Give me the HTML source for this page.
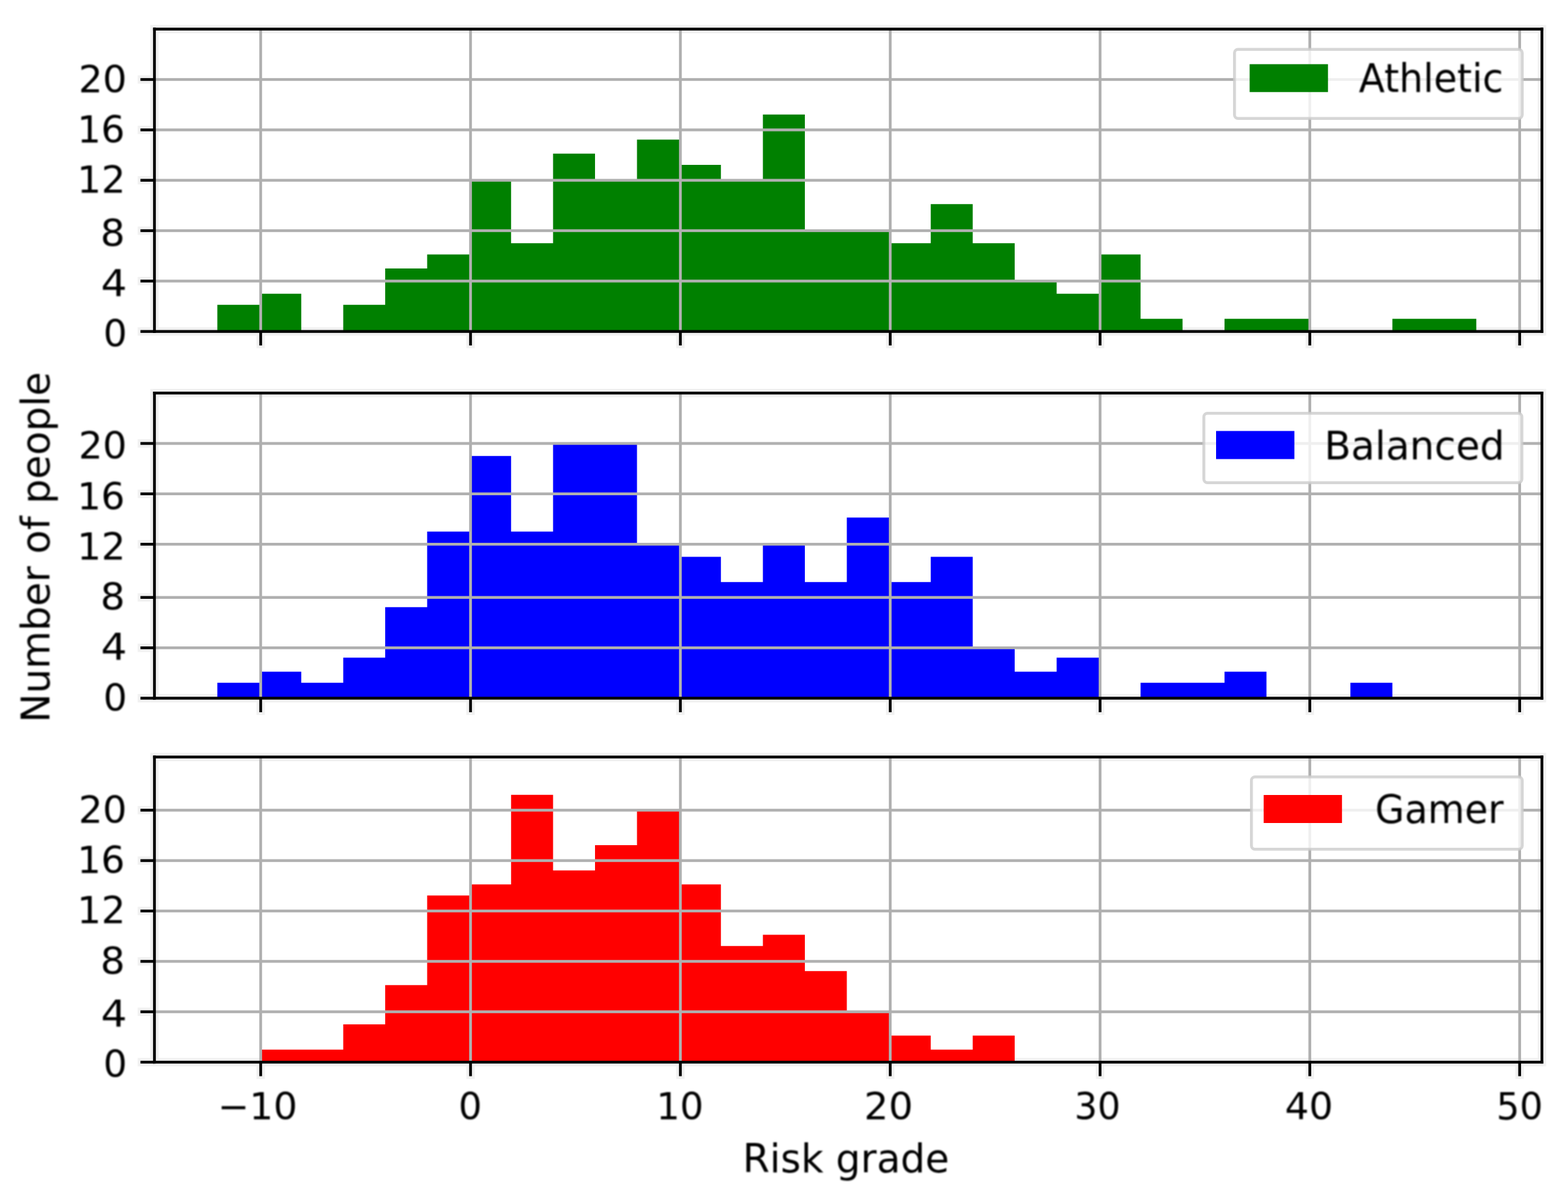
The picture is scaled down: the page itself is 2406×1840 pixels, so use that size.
<!DOCTYPE html>
<html lang="en"><head><meta charset="utf-8"><title>Risk grade histograms</title>
<style>
html,body{margin:0;padding:0;background:#fff;}
body{width:2406px;height:1840px;overflow:hidden;}
svg{display:block;font-family:"DejaVu Sans","Liberation Sans",sans-serif;}
.sp{fill:#000;}
.gr{fill:#b0b0b0;}
.bar{}
text{fill:#000;}
</style></head><body>
<svg width="2406" height="1840" viewBox="0 0 2406 1840" role="img" aria-label="Histograms of risk grade for Athletic, Balanced and Gamer groups">
<rect x="0" y="0" width="2406" height="1840" fill="#fff"/>
<defs><filter id="soft" x="-20%" y="-20%" width="140%" height="140%"><feGaussianBlur stdDeviation="1.1"/></filter></defs>
<g id="ax1">
<g fill="#000" fill-opacity="0.055">
<rect x="230.55" y="38.22" width="2141.9" height="12.9"/>
<rect x="230.55" y="502.22" width="2141.9" height="12.9"/>
<rect x="230.55" y="51.12" width="12.9" height="451.1"/>
<rect x="2359.55" y="51.12" width="12.9" height="451.1"/>
<rect x="393.55" y="515.12" width="12.9" height="19.35"/>
<rect x="715.55" y="515.12" width="12.9" height="19.35"/>
<rect x="1037.55" y="515.12" width="12.9" height="19.35"/>
<rect x="1359.55" y="515.12" width="12.9" height="19.35"/>
<rect x="1681.55" y="515.12" width="12.9" height="19.35"/>
<rect x="2003.35" y="515.12" width="12.9" height="19.35"/>
<rect x="2325.35" y="515.12" width="12.9" height="19.35"/>
<rect x="211.2" y="115.55" width="19.35" height="12.9"/>
<rect x="211.2" y="192.88" width="19.35" height="12.9"/>
<rect x="211.2" y="270.22" width="19.35" height="12.9"/>
<rect x="211.2" y="347.55" width="19.35" height="12.9"/>
<rect x="211.2" y="424.88" width="19.35" height="12.9"/>
<rect x="211.2" y="502.22" width="19.35" height="12.9"/>
</g>
<path class="bar" d="M333.49 508.67V467.85H399.08V450.67H462.27V508.67ZM526.67 508.67V467.85H591.06V412H655.46V390.52H721.05V275.72H784.24V373.33H848.64V235.85H913.03V275.72H977.43V214.37H1043.02V253.04H1106.21V275.72H1170.61V175.7H1235V353.05H1364.99V373.33H1428.18V313.18H1492.58V373.33H1556.97V430.38H1621.37V450.67H1686.96V390.52H1750.15V489.33H1814.55V508.67ZM1878.94 508.67V489.33H2008.93V508.67ZM2136.52 508.67V489.33H2265.31V508.67Z" fill="#008000"/>
<rect class="gr" x="397.85" y="44.67" width="4.3" height="464"/>
<rect class="gr" x="719.85" y="44.67" width="4.3" height="464"/>
<rect class="gr" x="1041.85" y="44.67" width="4.3" height="464"/>
<rect class="gr" x="1363.85" y="44.67" width="4.3" height="464"/>
<rect class="gr" x="1685.85" y="44.67" width="4.3" height="464"/>
<rect class="gr" x="2007.65" y="44.67" width="4.3" height="464"/>
<rect class="gr" x="2329.65" y="44.67" width="4.3" height="464"/>
<rect class="gr" x="237" y="119.85" width="2129" height="4.3"/>
<rect class="gr" x="237" y="197.18" width="2129" height="4.3"/>
<rect class="gr" x="237" y="274.52" width="2129" height="4.3"/>
<rect class="gr" x="237" y="351.85" width="2129" height="4.3"/>
<rect class="gr" x="237" y="429.18" width="2129" height="4.3"/>
<rect class="sp" x="397.85" y="508.67" width="4.3" height="21.5"/>
<rect class="sp" x="719.85" y="508.67" width="4.3" height="21.5"/>
<rect class="sp" x="1041.85" y="508.67" width="4.3" height="21.5"/>
<rect class="sp" x="1363.85" y="508.67" width="4.3" height="21.5"/>
<rect class="sp" x="1685.85" y="508.67" width="4.3" height="21.5"/>
<rect class="sp" x="2007.65" y="508.67" width="4.3" height="21.5"/>
<rect class="sp" x="2329.65" y="508.67" width="4.3" height="21.5"/>
<rect class="sp" x="215.5" y="119.85" width="21.5" height="4.3"/>
<rect class="sp" x="215.5" y="197.18" width="21.5" height="4.3"/>
<rect class="sp" x="215.5" y="274.52" width="21.5" height="4.3"/>
<rect class="sp" x="215.5" y="351.85" width="21.5" height="4.3"/>
<rect class="sp" x="215.5" y="429.18" width="21.5" height="4.3"/>
<rect class="sp" x="215.5" y="506.52" width="21.5" height="4.3"/>
<rect class="sp" x="234.85" y="42.52" width="4.3" height="468.3"/>
<rect class="sp" x="2363.85" y="42.52" width="4.3" height="468.3"/>
<rect class="sp" x="234.85" y="42.52" width="2133.3" height="4.3"/>
<rect class="sp" x="234.85" y="506.52" width="2133.3" height="4.3"/>
<text id="y0_20" x="120.4" y="141.6" font-size="57.5" textLength="74.3" lengthAdjust="spacingAndGlyphs" filter="url(#soft)">20</text>
<text id="y0_16" x="118.5" y="218.9" font-size="57.5" textLength="73.17" lengthAdjust="spacingAndGlyphs" filter="url(#soft)">16</text>
<text id="y0_12" x="118.34" y="296.1" font-size="57.5" textLength="74.38" lengthAdjust="spacingAndGlyphs" filter="url(#soft)">12</text>
<text id="y0_8" x="153.93" y="377.7" font-size="57.5" textLength="37.87" lengthAdjust="spacingAndGlyphs" filter="url(#soft)">8</text>
<text id="y0_4" x="154.65" y="454.7" font-size="57.5" textLength="40.26" lengthAdjust="spacingAndGlyphs" filter="url(#soft)">4</text>
<text id="y0_0" x="158.56" y="532" font-size="57.5" textLength="36.61" lengthAdjust="spacingAndGlyphs" filter="url(#soft)">0</text>
<rect x="1894.25" y="75.75" width="441.5" height="106" rx="5.5" ry="5.5" fill="#fff" fill-opacity="0.8" stroke="#ccc" stroke-opacity="0.8" stroke-width="4.5"/>
<rect class="bar" x="1917.5" y="98.5" width="120.2" height="42.8" fill="#008000"/>
<text id="lg0" x="2085.02" y="141.3" font-size="59.67" textLength="221.9" lengthAdjust="spacingAndGlyphs" filter="url(#soft)">Athletic</text>
</g>
<g id="ax2">
<g fill="#000" fill-opacity="0.055">
<rect x="230.55" y="596.74" width="2141.9" height="12.9"/>
<rect x="230.55" y="1065.03" width="2141.9" height="12.9"/>
<rect x="230.55" y="609.64" width="12.9" height="455.4"/>
<rect x="2359.55" y="609.64" width="12.9" height="455.4"/>
<rect x="393.55" y="1077.93" width="12.9" height="19.35"/>
<rect x="715.55" y="1077.93" width="12.9" height="19.35"/>
<rect x="1037.55" y="1077.93" width="12.9" height="19.35"/>
<rect x="1359.55" y="1077.93" width="12.9" height="19.35"/>
<rect x="1681.55" y="1077.93" width="12.9" height="19.35"/>
<rect x="2003.35" y="1077.93" width="12.9" height="19.35"/>
<rect x="2325.35" y="1077.93" width="12.9" height="19.35"/>
<rect x="211.2" y="674.07" width="19.35" height="12.9"/>
<rect x="211.2" y="751.4" width="19.35" height="12.9"/>
<rect x="211.2" y="828.74" width="19.35" height="12.9"/>
<rect x="211.2" y="910.37" width="19.35" height="12.9"/>
<rect x="211.2" y="987.7" width="19.35" height="12.9"/>
<rect x="211.2" y="1065.03" width="19.35" height="12.9"/>
</g>
<path class="bar" d="M333.49 1071.48V1047.85H399.08V1030.67H462.27V1047.85H526.67V1009.19H591.06V931.85H655.46V815.85H721.05V699.85H784.24V815.85H848.64V679.57H977.43V834.24H1043.02V854.52H1106.21V893.19H1170.61V834.24H1235V893.19H1299.4V794.37H1364.99V893.19H1428.18V854.52H1492.58V993.2H1556.97V1030.67H1621.37V1009.19H1686.96V1071.48ZM1750.15 1071.48V1047.85H1878.94V1030.67H1943.34V1071.48ZM2072.12 1071.48V1047.85H2136.52V1071.48Z" fill="#0000ff"/>
<rect class="gr" x="397.85" y="603.19" width="4.3" height="468.3"/>
<rect class="gr" x="719.85" y="603.19" width="4.3" height="468.3"/>
<rect class="gr" x="1041.85" y="603.19" width="4.3" height="468.3"/>
<rect class="gr" x="1363.85" y="603.19" width="4.3" height="468.3"/>
<rect class="gr" x="1685.85" y="603.19" width="4.3" height="468.3"/>
<rect class="gr" x="2007.65" y="603.19" width="4.3" height="468.3"/>
<rect class="gr" x="2329.65" y="603.19" width="4.3" height="468.3"/>
<rect class="gr" x="237" y="678.37" width="2129" height="4.3"/>
<rect class="gr" x="237" y="755.7" width="2129" height="4.3"/>
<rect class="gr" x="237" y="833.04" width="2129" height="4.3"/>
<rect class="gr" x="237" y="914.67" width="2129" height="4.3"/>
<rect class="gr" x="237" y="992" width="2129" height="4.3"/>
<rect class="sp" x="397.85" y="1071.48" width="4.3" height="21.5"/>
<rect class="sp" x="719.85" y="1071.48" width="4.3" height="21.5"/>
<rect class="sp" x="1041.85" y="1071.48" width="4.3" height="21.5"/>
<rect class="sp" x="1363.85" y="1071.48" width="4.3" height="21.5"/>
<rect class="sp" x="1685.85" y="1071.48" width="4.3" height="21.5"/>
<rect class="sp" x="2007.65" y="1071.48" width="4.3" height="21.5"/>
<rect class="sp" x="2329.65" y="1071.48" width="4.3" height="21.5"/>
<rect class="sp" x="215.5" y="678.37" width="21.5" height="4.3"/>
<rect class="sp" x="215.5" y="755.7" width="21.5" height="4.3"/>
<rect class="sp" x="215.5" y="833.04" width="21.5" height="4.3"/>
<rect class="sp" x="215.5" y="914.67" width="21.5" height="4.3"/>
<rect class="sp" x="215.5" y="992" width="21.5" height="4.3"/>
<rect class="sp" x="215.5" y="1069.33" width="21.5" height="4.3"/>
<rect class="sp" x="234.85" y="601.04" width="4.3" height="472.6"/>
<rect class="sp" x="2363.85" y="601.04" width="4.3" height="472.6"/>
<rect class="sp" x="234.85" y="601.04" width="2133.3" height="4.3"/>
<rect class="sp" x="234.85" y="1069.33" width="2133.3" height="4.3"/>
<text id="y1_20" x="120.4" y="704.3" font-size="57.5" textLength="74.3" lengthAdjust="spacingAndGlyphs" filter="url(#soft)">20</text>
<text id="y1_16" x="118.5" y="781.6" font-size="57.5" textLength="73.17" lengthAdjust="spacingAndGlyphs" filter="url(#soft)">16</text>
<text id="y1_12" x="118.34" y="858.6" font-size="57.5" textLength="74.38" lengthAdjust="spacingAndGlyphs" filter="url(#soft)">12</text>
<text id="y1_8" x="153.93" y="935.9" font-size="57.5" textLength="37.87" lengthAdjust="spacingAndGlyphs" filter="url(#soft)">8</text>
<text id="y1_4" x="154.65" y="1013.4" font-size="57.5" textLength="40.26" lengthAdjust="spacingAndGlyphs" filter="url(#soft)">4</text>
<text id="y1_0" x="158.56" y="1090.7" font-size="57.5" textLength="36.61" lengthAdjust="spacingAndGlyphs" filter="url(#soft)">0</text>
<rect x="1847.25" y="634.25" width="488" height="106.5" rx="5.5" ry="5.5" fill="#fff" fill-opacity="0.8" stroke="#ccc" stroke-opacity="0.8" stroke-width="4.5"/>
<rect class="bar" x="1866" y="661.4" width="120.2" height="43.1" fill="#0000ff"/>
<text id="lg1" x="2031.97" y="704.5" font-size="59.67" textLength="276.84" lengthAdjust="spacingAndGlyphs" filter="url(#soft)">Balanced</text>
</g>
<g id="ax3">
<g fill="#000" fill-opacity="0.055">
<rect x="230.55" y="1155.25" width="2141.9" height="12.9"/>
<rect x="230.55" y="1623.55" width="2141.9" height="12.9"/>
<rect x="230.55" y="1168.15" width="12.9" height="455.4"/>
<rect x="2359.55" y="1168.15" width="12.9" height="455.4"/>
<rect x="393.55" y="1636.45" width="12.9" height="19.35"/>
<rect x="715.55" y="1636.45" width="12.9" height="19.35"/>
<rect x="1037.55" y="1636.45" width="12.9" height="19.35"/>
<rect x="1359.55" y="1636.45" width="12.9" height="19.35"/>
<rect x="1681.55" y="1636.45" width="12.9" height="19.35"/>
<rect x="2003.35" y="1636.45" width="12.9" height="19.35"/>
<rect x="2325.35" y="1636.45" width="12.9" height="19.35"/>
<rect x="211.2" y="1236.88" width="19.35" height="12.9"/>
<rect x="211.2" y="1314.22" width="19.35" height="12.9"/>
<rect x="211.2" y="1391.55" width="19.35" height="12.9"/>
<rect x="211.2" y="1468.88" width="19.35" height="12.9"/>
<rect x="211.2" y="1546.22" width="19.35" height="12.9"/>
<rect x="211.2" y="1623.55" width="19.35" height="12.9"/>
</g>
<path class="bar" d="M399.08 1630V1610.67H526.67V1572H591.06V1511.85H655.46V1374.37H721.05V1357.19H784.24V1219.7H848.64V1335.7H913.03V1297.04H977.43V1242.39H1043.02V1357.19H1106.21V1451.7H1170.61V1434.52H1235V1490.37H1299.4V1551.72H1364.99V1589.19H1428.18V1610.67H1492.58V1589.19H1556.97V1630Z" fill="#ff0000"/>
<rect class="gr" x="397.85" y="1161.7" width="4.3" height="468.3"/>
<rect class="gr" x="719.85" y="1161.7" width="4.3" height="468.3"/>
<rect class="gr" x="1041.85" y="1161.7" width="4.3" height="468.3"/>
<rect class="gr" x="1363.85" y="1161.7" width="4.3" height="468.3"/>
<rect class="gr" x="1685.85" y="1161.7" width="4.3" height="468.3"/>
<rect class="gr" x="2007.65" y="1161.7" width="4.3" height="468.3"/>
<rect class="gr" x="2329.65" y="1161.7" width="4.3" height="468.3"/>
<rect class="gr" x="237" y="1241.18" width="2129" height="4.3"/>
<rect class="gr" x="237" y="1318.52" width="2129" height="4.3"/>
<rect class="gr" x="237" y="1395.85" width="2129" height="4.3"/>
<rect class="gr" x="237" y="1473.18" width="2129" height="4.3"/>
<rect class="gr" x="237" y="1550.52" width="2129" height="4.3"/>
<rect class="sp" x="397.85" y="1630" width="4.3" height="21.5"/>
<rect class="sp" x="719.85" y="1630" width="4.3" height="21.5"/>
<rect class="sp" x="1041.85" y="1630" width="4.3" height="21.5"/>
<rect class="sp" x="1363.85" y="1630" width="4.3" height="21.5"/>
<rect class="sp" x="1685.85" y="1630" width="4.3" height="21.5"/>
<rect class="sp" x="2007.65" y="1630" width="4.3" height="21.5"/>
<rect class="sp" x="2329.65" y="1630" width="4.3" height="21.5"/>
<rect class="sp" x="215.5" y="1241.18" width="21.5" height="4.3"/>
<rect class="sp" x="215.5" y="1318.52" width="21.5" height="4.3"/>
<rect class="sp" x="215.5" y="1395.85" width="21.5" height="4.3"/>
<rect class="sp" x="215.5" y="1473.18" width="21.5" height="4.3"/>
<rect class="sp" x="215.5" y="1550.52" width="21.5" height="4.3"/>
<rect class="sp" x="215.5" y="1627.85" width="21.5" height="4.3"/>
<rect class="sp" x="234.85" y="1159.55" width="4.3" height="472.6"/>
<rect class="sp" x="2363.85" y="1159.55" width="4.3" height="472.6"/>
<rect class="sp" x="234.85" y="1159.55" width="2133.3" height="4.3"/>
<rect class="sp" x="234.85" y="1627.85" width="2133.3" height="4.3"/>
<text id="y2_20" x="120.4" y="1262.7" font-size="57.5" textLength="74.3" lengthAdjust="spacingAndGlyphs" filter="url(#soft)">20</text>
<text id="y2_16" x="118.5" y="1339.9" font-size="57.5" textLength="73.17" lengthAdjust="spacingAndGlyphs" filter="url(#soft)">16</text>
<text id="y2_12" x="118.34" y="1417.2" font-size="57.5" textLength="74.38" lengthAdjust="spacingAndGlyphs" filter="url(#soft)">12</text>
<text id="y2_8" x="153.93" y="1494.6" font-size="57.5" textLength="37.87" lengthAdjust="spacingAndGlyphs" filter="url(#soft)">8</text>
<text id="y2_4" x="154.65" y="1576.1" font-size="57.5" textLength="40.26" lengthAdjust="spacingAndGlyphs" filter="url(#soft)">4</text>
<text id="y2_0" x="158.56" y="1653.4" font-size="57.5" textLength="36.61" lengthAdjust="spacingAndGlyphs" filter="url(#soft)">0</text>
<rect x="1920.25" y="1192.25" width="415.5" height="110.9" rx="5.5" ry="5.5" fill="#fff" fill-opacity="0.8" stroke="#ccc" stroke-opacity="0.8" stroke-width="4.5"/>
<rect class="bar" x="1939" y="1220" width="120.2" height="43" fill="#ff0000"/>
<text id="lg2" x="2110.07" y="1263" font-size="59.67" textLength="197.06" lengthAdjust="spacingAndGlyphs" filter="url(#soft)">Gamer</text>
</g>
<text id="xm10" x="333.92" y="1718" font-size="57.5" textLength="122.46" lengthAdjust="spacingAndGlyphs" filter="url(#soft)">−10</text>
<text id="x0" x="703.52" y="1718" font-size="57.5" textLength="36.09" lengthAdjust="spacingAndGlyphs" filter="url(#soft)">0</text>
<text id="x10" x="1007.02" y="1718" font-size="57.5" textLength="72.71" lengthAdjust="spacingAndGlyphs" filter="url(#soft)">10</text>
<text id="x20" x="1325.85" y="1718" font-size="57.5" textLength="75.2" lengthAdjust="spacingAndGlyphs" filter="url(#soft)">20</text>
<text id="x30" x="1648.6" y="1718" font-size="57.5" textLength="70.92" lengthAdjust="spacingAndGlyphs" filter="url(#soft)">30</text>
<text id="x40" x="1971.48" y="1718" font-size="57.5" textLength="74.27" lengthAdjust="spacingAndGlyphs" filter="url(#soft)">40</text>
<text id="x50" x="2296.04" y="1718" font-size="57.5" textLength="71.6" lengthAdjust="spacingAndGlyphs" filter="url(#soft)">50</text>
<text id="xlabel" x="1139.5" y="1799.4" font-size="59.67" textLength="317.17" lengthAdjust="spacingAndGlyphs" filter="url(#soft)">Risk grade</text>
<text id="ylabel" transform="translate(75.8,1109.02) rotate(-90)" x="0" y="0" font-size="59.67" textLength="538.31" lengthAdjust="spacingAndGlyphs" filter="url(#soft)">Number of people</text>
</svg>
</body></html>
